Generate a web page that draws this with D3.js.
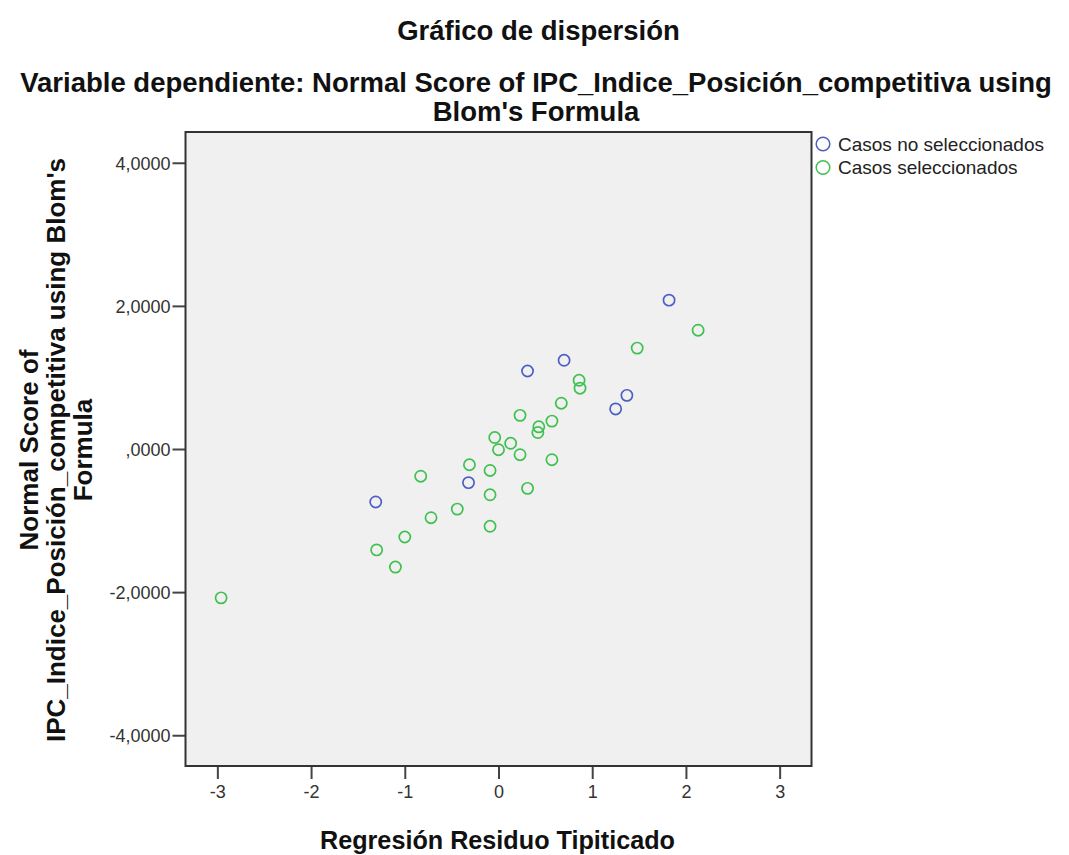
<!DOCTYPE html>
<html>
<head>
<meta charset="utf-8">
<script src="https://cdn.jsdelivr.net/npm/d3@7"></script>
<style>
  html, body { margin: 0; padding: 0; background: #ffffff; }
  svg { display: block; }
  text { font-family: "Liberation Sans", Arial, Helvetica, sans-serif; }
</style>
</head>
<body>
<svg id="chart" width="1069" height="855"></svg>
<script>
// Standardized residual (x) vs normal score (y), two case groups
const noSelX = [1.82, 0.70, 0.31, 1.37, 1.25, -0.32, -1.31];
const noSelY = [2.08, 1.24, 1.09, 0.75, 0.56, -0.47, -0.74];

const selX = [2.13, 1.48, 0.86, 0.87, 0.67, 0.23, 0.57, 0.43, 0.42, -0.04, 0.13,
              0.00, 0.23, -0.31, -0.09, -0.83, 0.57, 0.31, -0.09, -0.44, -0.72,
              -0.09, -1.00, -1.30, -1.10, -2.96];
const selY = [1.66, 1.41, 0.96, 0.85, 0.64, 0.47, 0.39, 0.31, 0.23, 0.16, 0.08,
              -0.01, -0.08, -0.22, -0.30, -0.38, -0.15, -0.55, -0.64, -0.84, -0.96,
              -1.08, -1.23, -1.41, -1.65, -2.08];

const xTicks = [-3, -2, -1, 0, 1, 2, 3];
const yTicks = [-4, -2, 0, 2, 4];
const yTickLabels = ["-4,0000", "-2,0000", ",0000", "2,0000", "4,0000"];

const legendLabels = ["Casos no seleccionados", "Casos seleccionados"];
const seriesColors = ["#4d5fc4", "#3fc150"];

const title = "Gráfico de dispersión";
const subtitleLines = ["Variable dependiente: Normal Score of IPC_Indice_Posición_competitiva using",
                       "Blom's Formula"];
const xTitle = "Regresión Residuo Tipiticado";
const yTitleLines = ["Normal Score of", "IPC_Indice_Posición_competitiva using Blom's", "Formula"];

const svg = d3.select("#chart");
const plot = { left: 185.5, right: 811.5, top: 132, bottom: 766 };

const x = d3.scaleLinear().domain([-3.34, 3.34]).range([plot.left, plot.right]);
const y = d3.scaleLinear().domain([-4.43, 4.43]).range([plot.bottom, plot.top]);

// plot background
svg.append("rect")
  .attr("x", plot.left).attr("y", plot.top)
  .attr("width", plot.right - plot.left).attr("height", plot.bottom - plot.top)
  .attr("fill", "#f0f0f0");

// axes
const xAxis = d3.axisBottom(x).tickValues(xTicks).tickSize(13).tickSizeOuter(0)
  .tickFormat(d => d < 0 ? "-" + Math.abs(d) : String(d));
const gx = svg.append("g").attr("transform", `translate(0,${plot.bottom})`).call(xAxis);
gx.select(".domain").remove();
gx.selectAll(".tick line").attr("stroke", "#444").attr("stroke-width", 2);
gx.selectAll(".tick text")
  .attr("y", 32).attr("dy", 0)
  .attr("font-size", 18).attr("fill", "#333")
  .style("font-family", "'Liberation Sans', Arial, sans-serif");

const yAxis = d3.axisLeft(y).tickValues(yTicks).tickSize(13).tickSizeOuter(0)
  .tickFormat((d, i) => yTickLabels[i]);
const gy = svg.append("g").attr("transform", `translate(${plot.left},0)`).call(yAxis);
gy.select(".domain").remove();
gy.selectAll(".tick line").attr("stroke", "#444").attr("stroke-width", 2);
gy.selectAll(".tick text")
  .attr("x", -15).attr("dy", 6.5)
  .attr("font-size", 18).attr("fill", "#333")
  .style("font-family", "'Liberation Sans', Arial, sans-serif");

// frame
svg.append("rect")
  .attr("x", plot.left).attr("y", plot.top)
  .attr("width", plot.right - plot.left).attr("height", plot.bottom - plot.top)
  .attr("fill", "none").attr("stroke", "#333").attr("stroke-width", 2);

// points
const noSel = noSelX.map((v, i) => ({ x: v, y: noSelY[i] }));
const sel = selX.map((v, i) => ({ x: v, y: selY[i] }));

svg.append("g").selectAll("circle").data(sel).join("circle")
  .attr("cx", d => x(d.x)).attr("cy", d => y(d.y)).attr("r", 5.6)
  .attr("fill", "none").attr("stroke", seriesColors[1]).attr("stroke-width", 1.7);

svg.append("g").selectAll("circle").data(noSel).join("circle")
  .attr("cx", d => x(d.x)).attr("cy", d => y(d.y)).attr("r", 5.6)
  .attr("fill", "none").attr("stroke", seriesColors[0]).attr("stroke-width", 1.7);

// legend
const legend = svg.append("g");
legendLabels.forEach((lab, i) => {
  const ly = 144 + i * 23.5;
  legend.append("circle").attr("cx", 823).attr("cy", ly).attr("r", 6.8)
    .attr("fill", "none").attr("stroke", seriesColors[i]).attr("stroke-width", 1.5);
  legend.append("text")
    .attr("x", 838).attr("y", ly + 6.5)
    .attr("font-size", 19).attr("fill", "#222").text(lab);
});

// titles
function boldText(tx, ty, size, txt) {
  return svg.append("text")
    .attr("x", tx).attr("y", ty)
    .attr("text-anchor", "middle").attr("font-weight", "bold")
    .attr("font-size", size).attr("fill", "#111").text(txt);
}
boldText(538.5, 40, 27.5, title);
boldText(536, 92, 27.5, subtitleLines[0]);
boldText(536, 121, 27.5, subtitleLines[1]);
boldText(497.5, 849, 25.2, xTitle);

// rotated y title
yTitleLines.forEach((line, i) => {
  svg.append("text")
    .attr("transform", `translate(${38 + i * 27},450) rotate(-90)`)
    .attr("text-anchor", "middle").attr("font-weight", "bold")
    .attr("font-size", 26).attr("fill", "#111").text(line);
});
</script>
</body>
</html>
